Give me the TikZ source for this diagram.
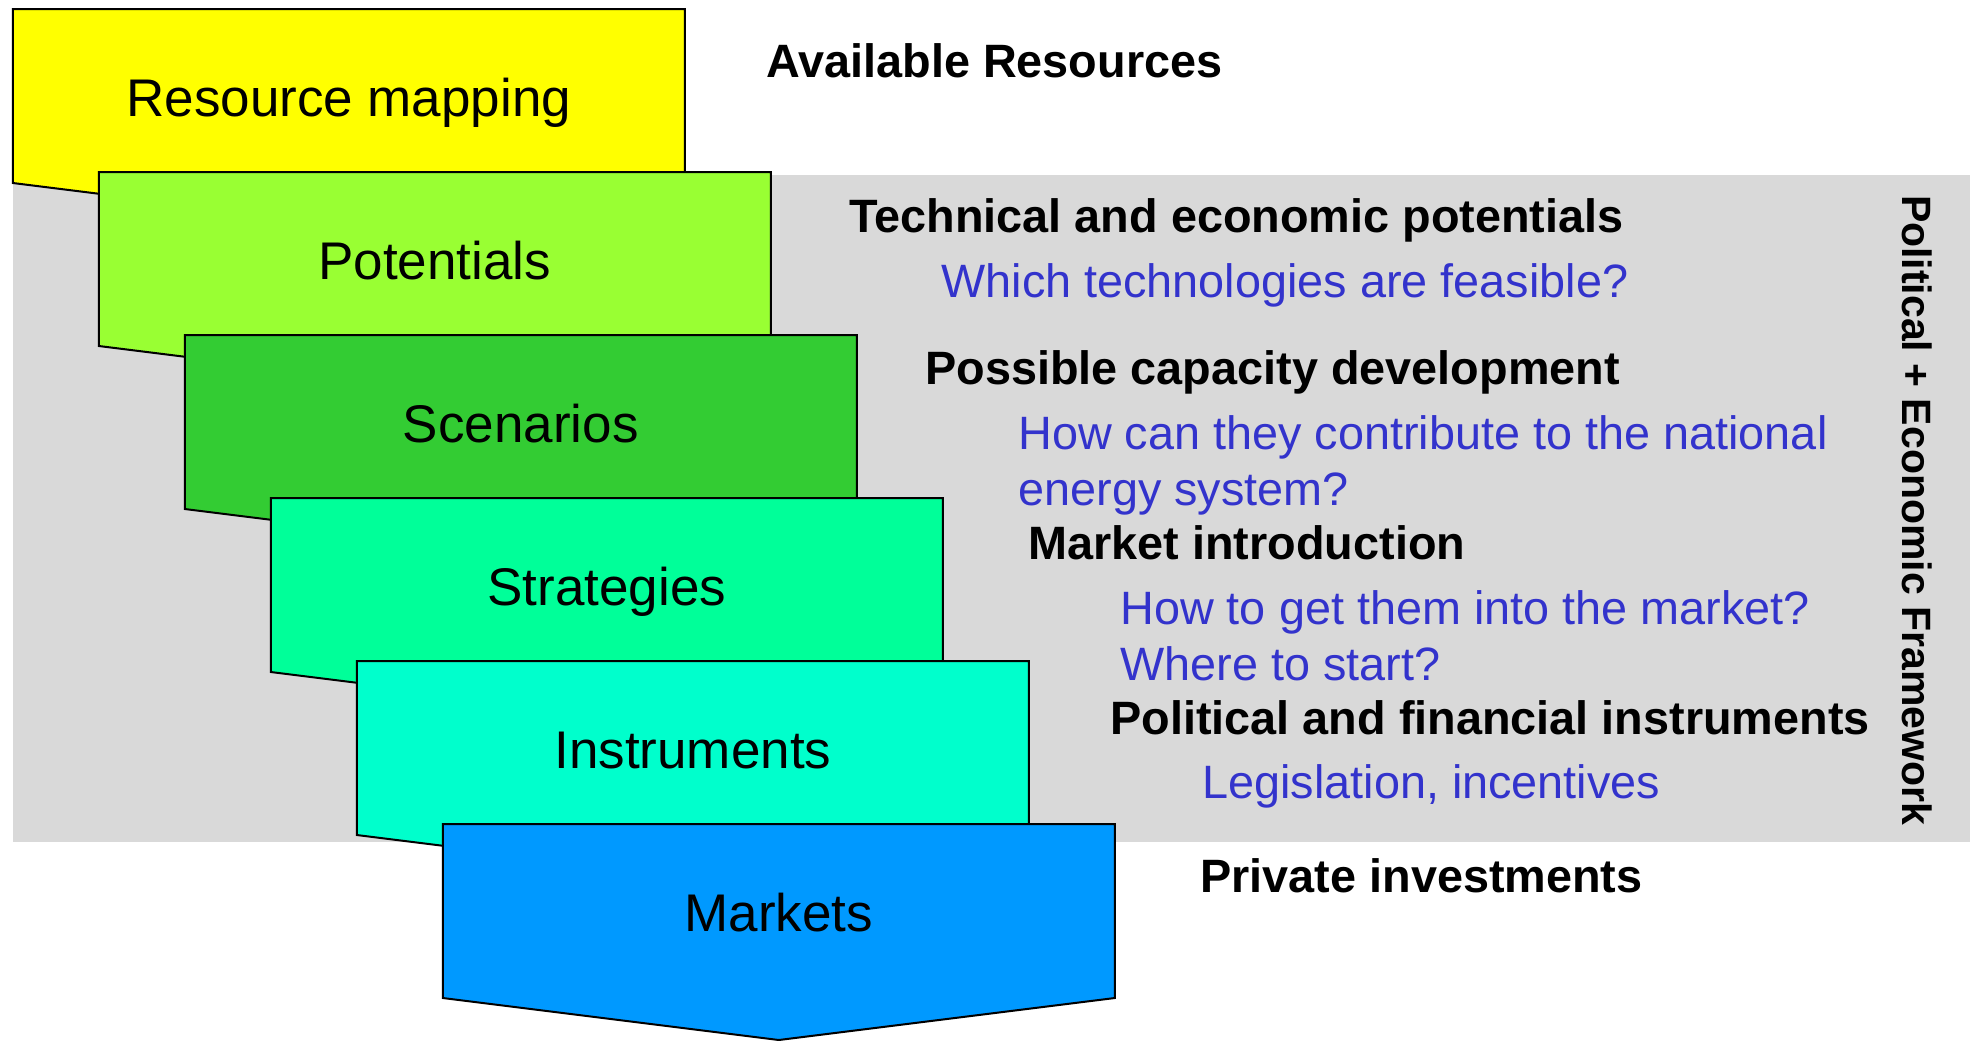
\documentclass[tikz,border=0pt]{standalone}
\usepackage{fontspec}
\setmainfont{Liberation Sans}
\usepackage{xcolor}
\definecolor{StageYellow}{HTML}{FFFF00}
\definecolor{StageLime}{HTML}{99FF33}
\definecolor{StageGreen}{HTML}{33CC33}
\definecolor{StageMint}{HTML}{00FF99}
\definecolor{StageAqua}{HTML}{00FFCC}
\definecolor{StageBlue}{HTML}{0099FF}
\definecolor{FrameGray}{HTML}{D9D9D9}
\definecolor{QuestionBlue}{HTML}{3333CC}

% one stage: box with a downward point, #1,#2 = top left corner
\newcommand{\drawstage}[3]{\draw[stageline, fill=#3] (#1,#2) -- ++(672,0) -- ++(0,174) -- ++(-336,42) -- ++(-336,-42) -- cycle;}

\begin{document}
\begin{tikzpicture}[x=0.5pt, y=-0.5pt,
    stageline/.style={draw=black, line width=1pt},
    stagelabel/.style={anchor=base, inner sep=0pt, font=\fontsize{26.5}{31}\selectfont},
    heading/.style={anchor=base west, inner sep=0pt, font=\fontsize{23.4}{28}\selectfont\bfseries},
    question/.style={anchor=base west, inner sep=0pt, text=QuestionBlue, font=\fontsize{23.4}{28}\selectfont}]
    \useasboundingbox (0,0) rectangle (1973,1040);

    % Framework band
    \fill[FrameGray] (12.8,175) rectangle (1970,842);

    % Stages
    \drawstage{12.8}{9}{StageYellow}
    \drawstage{98.8}{172}{StageLime}
    \drawstage{184.8}{335}{StageGreen}
    \drawstage{270.8}{498}{StageMint}
    \drawstage{356.8}{661}{StageAqua}
    \drawstage{442.8}{824}{StageBlue}

    \node[stagelabel] (mapping) at (348.8,116) {Resource mapping};
    \node[stagelabel] (potentials) at (434.8,279) {Potentials};
    \node[stagelabel] (scenarios) at (520.8,442) {Scenarios};
    \node[stagelabel] (strategies) at (606.8,605) {Strategies};
    \node[stagelabel] (instruments) at (692.8,768) {Instruments};
    \node[stagelabel] (markets) at (778.8,931) {Markets};

    % Notes
    \node[heading] (resources) at (766,77) {Available Resources};
    \node[heading] (technical) at (849,232) {Technical and economic potentials};
    \node[question] (feasible) at (941,297) {Which technologies are feasible?};
    \node[heading] (capacity) at (925,384) {Possible capacity development};
    \node[question] (contribute) at (1018,449) {How can they contribute to the national};
    \node[question] (energy) at (1018,505) {energy system?};
    \node[heading] (introduction) at (1028,559) {Market introduction};
    \node[question] (getinto) at (1120,624) {How to get them into the market?};
    \node[question] (start) at (1120,680) {Where to start?};
    \node[heading] (policy) at (1110,734) {Political and financial instruments};
    \node[question] (legislation) at (1202,798) {Legislation, incentives};
    \node[heading] (investments) at (1200,892) {Private investments};

    \node[rotate=-90, font=\fontsize{20.5}{24}\selectfont\bfseries] (framework) at (1917,510) {Political + Economic Framework};
\end{tikzpicture}
\end{document}
